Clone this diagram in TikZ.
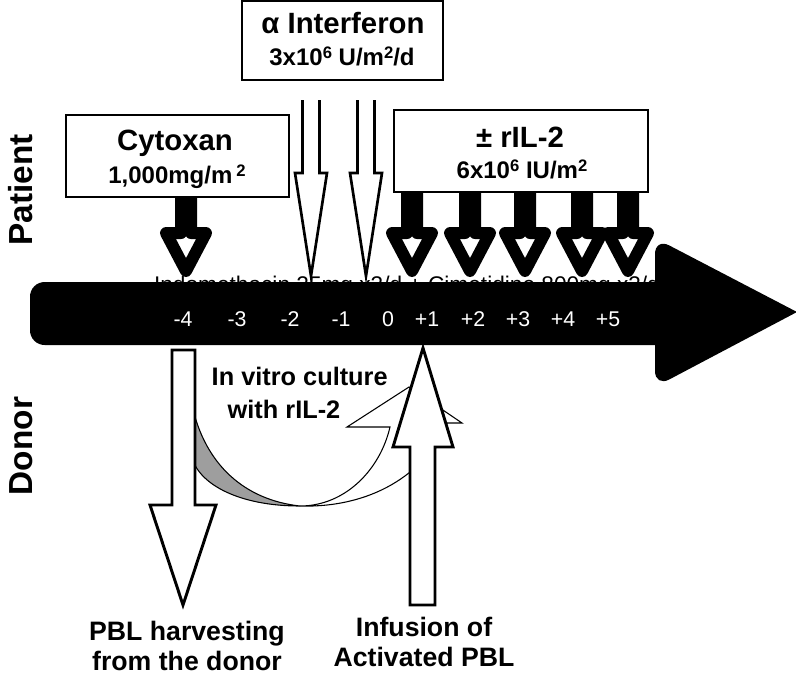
\documentclass[tikz,border=0pt]{standalone}
\usepackage{fontspec}
\setmainfont{Liberation Sans}
\usepackage{tikz}

% small raised figure, as in the dose lines
\newcommand{\upfig}[1]{\raisebox{0.28em}{\fontsize{12.5}{12.5}\selectfont #1}}

% black drug arrow below a box: x of the axis, top of the shaft
\newcommand{\dosearrow}[2]{%
\draw[line width=9pt, line join=round, fill=white] (#1-5,#2)--(#1-5,233)--(#1-20,233)--(#1,271)--(#1+20,233)--(#1+5,233)--(#1+5,#2)--cycle;}

% thin open arrow for the interferon shots
\newcommand{\ifnarrow}[1]{%
\filldraw[fill=white, line width=2pt] (#1-8.5,100)--(#1-8.5,173)--(#1-16,173)--(#1,276)--(#1+16,173)--(#1+8.5,173)--(#1+8.5,100);}

\begin{document}
\begin{tikzpicture}[x=0.75pt, y=-0.75pt,
  box/.style={draw, fill=white, line width=1.5pt},
  title/.style={font=\bfseries\fontsize{22}{26}\selectfont, anchor=base},
  dose/.style={font=\bfseries\fontsize{18}{22}\selectfont, anchor=base},
  side/.style={font=\bfseries\fontsize{25}{30}\selectfont, rotate=90},
  day/.style={text=white, font=\fontsize{16}{19}\selectfont},
  lbl/.style={font=\bfseries\fontsize{20}{22.5}\selectfont, align=center, inner sep=0pt}]

\useasboundingbox (0,0) rectangle (796,676);

\node[side] (patient) at (21,190) {Patient};
\node[side] (donor) at (21,446) {Donor};

% oral drugs, mostly behind the time line
\node[anchor=base, font=\fontsize{17}{20}\selectfont] (oral) at (407,292) {Indomethacin 25mg x3/d + Cimetidine 800mg x3/d};

\ifnarrow{311}
\ifnarrow{366}

% time line
\fill[rounded corners=11pt] (690,282)--(30,282)--(30,345)--(690,345);
\fill (797,312) [rounded corners=12pt] -- (655,238) -- (655,387) [sharp corners] -- cycle;

\foreach \d/\x in {-4/183,-3/237,-2/290,-1/341,0/388,+1/427,+2/473,+3/518,+4/563,+5/608}
	\node[day] (day\x) at (\x,319) {\d};

\dosearrow{186}{190}
\foreach \x in {412,470,525,582,628}{
	\dosearrow{\x}{185}
}

\node[box, minimum width=167.25pt, minimum height=61.5pt] (cytoxan) at (177.5,156) {};
\node[title] at (175,150) {Cytoxan};
\node[dose] at (177,183) {1,000mg/m\,\upfig{2}};

\node[box, minimum width=150.75pt, minimum height=58.9pt] (ifn) at (342.5,40.75) {};
\node[title] at (343,33) {α Interferon};
\node[dose] at (342,65) {3x10\upfig{6} U/m\upfig{2}/d};

\node[box, minimum width=190.5pt, minimum height=61.5pt] (ril) at (521,151) {};
\node[title] at (520,147) {± rIL-2};
\node[dose] at (522,178) {6x10\upfig{6} IU/m\upfig{2}};

% culture ribbon
\filldraw[fill=black!38, line width=0.8pt] (192,405) .. controls (205,465) and (245,500) .. (300,506) .. controls (240,506) and (200,485) .. (192,458) -- cycle;
\filldraw[fill=white, line width=0.8pt] (300,506) .. controls (345,506) and (380,470) .. (390,427) -- (347,427) -- (409,387) -- (462,423) -- (447,423) .. controls (425,475) and (370,508) .. (300,506) -- cycle;

% harvesting and infusion
\filldraw[fill=white, line width=2.2pt] (172,350)--(195,350)--(195,505)--(216,505)--(183,605)--(150,505)--(172,505)--cycle;
\filldraw[fill=white, line width=2.2pt] (410,605)--(435,605)--(435,447)--(453,447)--(423,348)--(393,447)--(410,447)--cycle;

\node[font=\bfseries\fontsize{19}{22}\selectfont, anchor=base west] (vitro) at (207,385) {In vitro culture};
\node[font=\bfseries\fontsize{19}{22}\selectfont, anchor=base west] (vitro2) at (223,418) {with rIL-2};

\node[lbl] (harvest) at (187,646) {PBL harvesting\\from the donor};
\node[lbl] (infuse) at (424,642) {Infusion of\\Activated PBL};

\end{tikzpicture}
\end{document}
